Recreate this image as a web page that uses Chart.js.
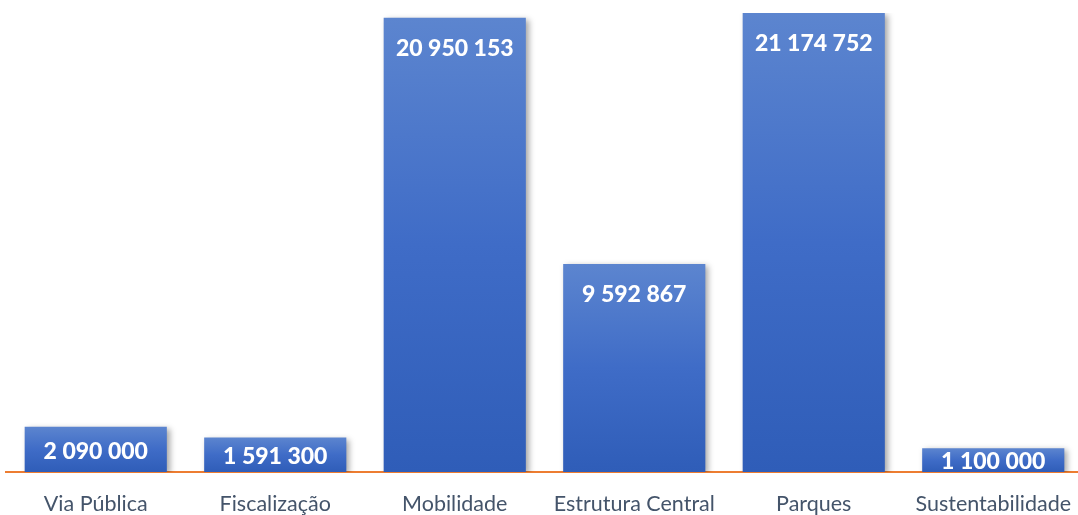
<!DOCTYPE html>
<html>
<head>
<meta charset="utf-8">
<script src="https://cdn.jsdelivr.net/npm/chart.js@4/dist/chart.umd.min.js"></script>
<style>
  html, body { margin: 0; padding: 0; background: #fff; overflow: hidden; }
  canvas { display: block; }
</style>
</head>
<body>
<canvas id="chart" width="1083" height="515"></canvas>
<script>
const categories = ["Via Pública", "Fiscalização", "Mobilidade", "Estrutura Central", "Parques", "Sustentabilidade"];
const amounts = [2090000, 1591300, 20950153, 9592867, 21174752, 1100000];

function fmtNum(n) {
  return String(n).replace(/\B(?=(\d{3})+(?!\d))/g, " ");
}

function barGradient(context) {
  const chart = context.chart;
  const y = chart.scales.y;
  if (!y || context.dataIndex === undefined) return "#4472c4";
  const top = y.getPixelForValue(context.raw);
  const base = y.getPixelForValue(0);
  if (!isFinite(top) || !isFinite(base) || top === base) return "#4472c4";
  const g = chart.ctx.createLinearGradient(0, top, 0, base);
  g.addColorStop(0, "#5c85cf");
  g.addColorStop(0.5, "#3f6cc7");
  g.addColorStop(1, "#2f5db8");
  return g;
}

const shadowPlugin = {
  id: "barShadow",
  beforeDatasetsDraw(chart) {
    const ctx = chart.ctx;
    ctx.save();
    ctx.shadowColor = "rgba(0,0,0,0.35)";
    ctx.shadowBlur = 6;
    ctx.shadowOffsetX = 3;
    ctx.shadowOffsetY = 2;
  },
  afterDatasetsDraw(chart) {
    chart.ctx.restore();
  },
};

const labelPlugin = {
  id: "valueLabels",
  afterDraw(chart) {
    const ctx = chart.ctx;
    const meta = chart.getDatasetMeta(0);
    ctx.save();
    ctx.fillStyle = "#ffffff";
    ctx.font = "900 23px Lato";
    ctx.textAlign = "center";
    ctx.textBaseline = "middle";
    meta.data.forEach((bar, i) => {
      const mid = (bar.y + bar.base) / 2;
      const cy = Math.min(bar.y + 31, mid + 2);
      ctx.fillText(fmtNum(amounts[i]), bar.x, cy);
    });
    ctx.restore();
  },
};

new Chart(document.getElementById("chart"), {
  type: "bar",
  data: {
    labels: categories,
    datasets: [{
      data: amounts,
      backgroundColor: barGradient,
      borderWidth: 0,
      barPercentage: 0.88,
      categoryPercentage: 0.9,
    }],
  },
  options: {
    responsive: false,
    animation: false,
    layout: { padding: { top: 13, left: 6, right: 0, bottom: 0 } },
    plugins: { legend: { display: false }, tooltip: { enabled: false } },
    scales: {
      x: {
        grid: { display: false, drawTicks: false },
        border: { display: true, color: "#ed7d31", width: 2 },
        ticks: { color: "#44546a", font: { family: "Lato", size: 21.5 }, padding: 19, maxRotation: 0 },
        afterFit(axis) {
          axis.height = 43;
          axis.paddingLeft = 0;
          axis.paddingRight = 0;
        },
      },
      y: {
        display: false,
        min: 0,
        max: 21174752,
      },
    },
  },
  plugins: [shadowPlugin, labelPlugin],
});
</script>
</body>
</html>
